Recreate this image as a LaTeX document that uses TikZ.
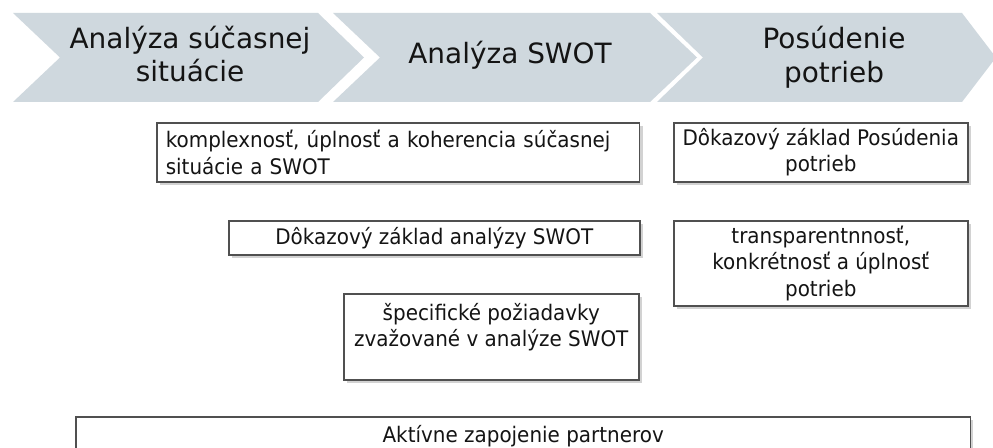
\documentclass[tikz,border=0pt]{standalone}
\usepackage{fontspec}
\setmainfont{DejaVu Sans}
\newfontfamily\boxfont[FakeStretch=0.93]{DejaVu Sans}
\usetikzlibrary{positioning,shadows}
\definecolor{chevfill}{RGB}{207,216,222}
\definecolor{boxline}{RGB}{80,80,80}
\definecolor{inktext}{RGB}{20,20,20}

\begin{document}
\begin{tikzpicture}[x=0.02cm,y=-0.02cm,
    chev/.style={fill=chevfill},
    chevtext/.style={font=\fontsize{15.9}{19.3}\selectfont,align=center,text=inktext,inner sep=0pt},
    kbox/.style={draw=boxline,line width=0.9pt,fill=white,anchor=north west,inner sep=0pt,
      drop shadow={shadow xshift=1.6pt,shadow yshift=-1.6pt,opacity=0.35},
      font=\boxfont\fontsize{12.2}{15}\selectfont,text=inktext,align=center},
    ktext/.style={font=\boxfont\fontsize{12.2}{15}\selectfont,text=inktext,align=center,inner sep=0pt}]
  \clip (0,0) rectangle (993,448);
  \fill[white] (0,0) rectangle (993,448);

  % phases
  \fill[chev] (13,13) -- (318,13) -- (364,57.5) -- (318,102) -- (13,102) -- (60,57.5) -- cycle;
  \fill[chev] (333,13) -- (650,13) -- (697,57.5) -- (650,102) -- (333,102) -- (380,57.5) -- cycle;
  \fill[chev] (657,13) -- (962,13) -- (996,57.5) -- (962,102) -- (657,102) -- (703,57.5) -- cycle;
  \node[chevtext] (stav) at (190,54) {Analýza súčasnej\\situácie};
  \node[chevtext] (swot) at (510,55.5) {Analýza SWOT};
  \node[chevtext] (potreby) at (834,57) {Posúdenie\\potrieb};

  % criteria
  \node[kbox,minimum width=9.66cm,minimum height=1.18cm,align=left,text width=9.3cm] (kompl) at (156,122)
    {komplexnosť, úplnosť a koherencia súčasnej\\situácie a SWOT};
  \node[kbox,minimum width=8.22cm,minimum height=0.68cm] (dokswot) at (228,220)
    {Dôkazový základ analýzy SWOT};
  \node[kbox,minimum width=5.9cm,minimum height=1.72cm] (spec) at (343,293) {};
  \node[ktext,below=0.2cm of spec.north] (spectext)
    {špecifické požiadavky\\zvažované v analýze SWOT};
  \node[kbox,minimum width=5.88cm,minimum height=1.18cm] (dokpot) at (673,122)
    {Dôkazový základ Posúdenia\\potrieb};
  \node[kbox,minimum width=5.88cm,minimum height=1.7cm] (transp) at (673,220)
    {transparentnnosť,\\konkrétnosť a úplnosť\\potrieb};

  % partners
  \node[kbox,minimum width=17.9cm,minimum height=1.3cm] (partneri) at (75,416) {};
  \node[ktext,below=0.18cm of partneri.north] (partnertext) {Aktívne zapojenie partnerov};
\end{tikzpicture}
\end{document}
